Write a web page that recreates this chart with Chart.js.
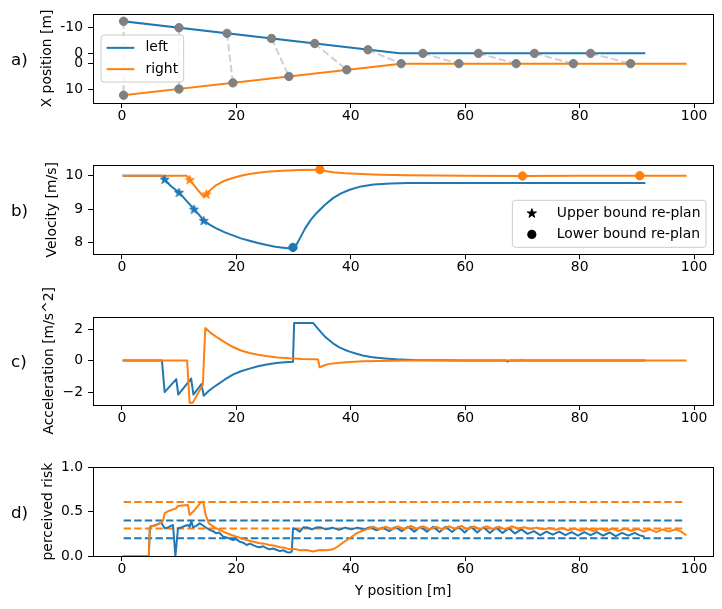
<!DOCTYPE html>
<html>
<head>
<meta charset="utf-8">
<script src="https://cdn.jsdelivr.net/npm/chart.js@4/dist/chart.umd.min.js"></script>
<style>
    html, body { margin: 0; padding: 0; background: #fff; }
    #fig { position: relative; width: 722px; height: 609px; overflow: hidden; font-family: "DejaVu Sans", sans-serif; }
    #fig canvas { position: absolute; left: 0; }
    .plabel { position: absolute; left: 11px; font-size: 16.7px; line-height: 1; transform: translateY(-50%); color: #000; }
</style>
</head>
<body>
<div id="fig">
    <canvas id="chartA" width="722" height="150" style="top:0px"></canvas>
    <canvas id="chartB" width="722" height="150" style="top:135px"></canvas>
    <canvas id="chartC" width="722" height="160" style="top:280px"></canvas>
    <canvas id="chartD" width="722" height="169" style="top:440px"></canvas>
    <div class="plabel" style="top:58.5px">a)</div>
    <div class="plabel" style="top:209.8px">b)</div>
    <div class="plabel" style="top:360.8px">c)</div>
    <div class="plabel" style="top:511.6px">d)</div>
</div>
<script>
// ---- data ----
const xTicks = [0, 20, 40, 60, 80, 100];

// a) lateral position (each lane drawn with a small offset so both zeros show)
const posTicks = [-12, -2, 2, 12];
const posTickLabels = ['-10', '0', '0', '10'];
const posLeft = [[0.3, -14.5], [48.5, -2], [91.3, -2]];
const posRight = [[0.3, 14.3], [48.8, 2], [98.5, 2]];
const planLeft = [[0.3, -14.5], [9.97, -12.0], [18.37, -9.8], [26.14, -7.8], [33.7, -5.85],
    [43.0, -3.4], [52.6, -2], [62.3, -2], [72.1, -2], [81.9, -2]];
const planRight = [[0.3, 14.3], [9.97, 11.9], [19.4, 9.5], [29.2, 7.0], [39.3, 4.4],
    [48.8, 2], [58.9, 2], [68.9, 2], [78.9, 2], [88.9, 2]];

// b) velocity
const velTicks = [8, 9, 10];
const velTickLabels = ['8', '9', '10'];
const velLeft = [[0.3, 10], [7.0, 10], [7.47, 9.89], [8.5, 9.7], [9.97, 9.5], [11.3, 9.25], [12.6, 9.0],
    [13.5, 8.83], [14.3, 8.66], [15.4, 8.53], [16.5, 8.43], [18.0, 8.31], [19.4, 8.22], [20.8, 8.13],
    [22.3, 8.06], [23.8, 7.99], [25.3, 7.93], [26.8, 7.88], [28.2, 7.85], [29.9, 7.82], [30.5, 7.94],
    [31.1, 8.13], [32.0, 8.42], [33.0, 8.68], [34.0, 8.88], [35.4, 9.12], [36.9, 9.33], [38.3, 9.47],
    [39.8, 9.58], [41.8, 9.68], [44.0, 9.74], [47.0, 9.77], [50.0, 9.78], [91.3, 9.78]];
const velRight = [[0.3, 10], [11.3, 10], [11.85, 9.88], [12.6, 9.72], [13.4, 9.55], [14.2, 9.38],
    [14.77, 9.45], [15.5, 9.58], [16.5, 9.72], [17.8, 9.84], [19.4, 9.93], [20.8, 10.0], [22.3, 10.05],
    [23.8, 10.09], [25.3, 10.12], [28.0, 10.15], [31.1, 10.17], [34.6, 10.18], [35.5, 10.14],
    [36.9, 10.1], [39.0, 10.07], [41.8, 10.05], [45.0, 10.03], [50.0, 10.01], [60.0, 10.0],
    [70.0, 9.99], [80.0, 10.0], [98.5, 10.0]];
const upperLeft = [[7.47, 9.89], [9.97, 9.5], [12.6, 9.0], [14.3, 8.66]];
const upperRight = [[11.85, 9.88], [14.77, 9.45]];
const lowerLeft = [[29.9, 7.86]];
const lowerRight = [[34.6, 10.18], [70.0, 9.99], [90.5, 10.0]];

// c) acceleration
const accTicks = [-2, 0, 2];
const accTickLabels = ['\u22122', '0', '2'];
const accLeft = [[0.3, 0], [7.0, 0], [7.47, -2.0], [9.5, -1.18], [9.85, -2.16], [12.1, -1.14],
    [12.5, -2.16], [13.9, -1.49], [14.3, -2.23], [15.2, -1.92], [16.5, -1.57], [18.0, -1.2],
    [19.4, -0.89], [20.8, -0.68], [22.3, -0.51], [23.8, -0.36], [25.3, -0.25], [27.0, -0.16],
    [28.5, -0.11], [29.9, -0.07], [30.1, 2.39], [33.4, 2.39], [34.55, 1.9], [35.4, 1.55], [36.3, 1.27],
    [37.1, 1.04], [38.0, 0.84], [38.9, 0.69], [39.8, 0.57], [41.0, 0.43], [42.1, 0.32], [43.5, 0.23],
    [45.0, 0.17], [46.5, 0.12], [48.0, 0.08], [50.9, 0.04], [55.5, 0.015], [60.0, 0], [67.1, 0],
    [67.4, -0.06], [67.7, 0], [91.3, 0]];
const accRight = [[0.3, 0], [11.4, 0], [11.83, -2.67], [12.4, -2.67], [14.15, -1.52], [14.57, 2.07],
    [15.5, 1.76], [16.5, 1.5], [18.0, 1.15], [19.4, 0.86], [20.8, 0.64], [22.3, 0.48], [23.8, 0.37],
    [25.2, 0.29], [27.2, 0.2], [29.3, 0.14], [31.5, 0.1], [33.5, 0.08], [34.3, 0.07], [34.55, -0.43],
    [35.4, -0.3], [36.3, -0.21], [37.7, -0.15], [39.2, -0.11], [42.1, -0.05], [45.0, -0.02],
    [50.0, 0], [69.7, 0], [69.9, 0.05], [70.3, 0.01], [98.5, 0]];

// d) perceived risk
const riskTicks = [0, 0.5, 1.0];
const riskTickLabels = ['0.0', '0.5', '1.0'];
const riskSpan = [0.3, 98.5];
const riskLimitsLeft = [0.2, 0.4];
const riskLimitsRight = [0.31, 0.61];
const riskLeft = [[0.3, 0], [4.7, 0], [4.9, 0.33], [6.0, 0.35], [6.89, 0.376], [7.47, 0.312],
    [8.05, 0.323], [8.93, 0.35], [9.35, 0], [9.8, 0.312], [10.4, 0.322], [10.97, 0.338], [11.55, 0.35],
    [11.85, 0.33], [12.14, 0.398], [12.43, 0.323], [13.0, 0.34], [13.6, 0.368], [14.0, 0.352],
    [14.47, 0.33], [15.35, 0.293], [15.9, 0.28], [16.5, 0.256], [17.0, 0.265], [17.7, 0.218],
    [18.5, 0.205], [19.4, 0.18], [20.0, 0.19], [20.6, 0.16], [21.2, 0.15], [21.8, 0.124], [22.4, 0.14],
    [23.0, 0.12], [23.6, 0.105], [24.1, 0.098], [24.7, 0.11], [25.2, 0.09], [25.8, 0.075], [26.4, 0.085],
    [27.0, 0.07], [27.6, 0.055], [28.2, 0.065], [28.8, 0.045], [29.3, 0.038], [29.7, 0.05], [29.9, 0.312],
    [30.5, 0.30], [31.1, 0.274], [31.7, 0.323], [32.5, 0.32], [33.2, 0.30], [34.0, 0.322], [34.6, 0.325],
    [35.7, 0.30], [36.8, 0.32], [37.9, 0.295], [39.0, 0.32], [40.1, 0.30], [41.2, 0.32], [42.3, 0.30],
    [43.4, 0.325], [44.5, 0.29], [45.6, 0.32], [46.7, 0.28], [47.8, 0.325], [48.9, 0.28], [50.0, 0.33],
    [51.1, 0.275], [52.2, 0.33], [53.3, 0.275], [54.4, 0.33], [55.5, 0.27], [56.6, 0.33], [57.7, 0.27],
    [58.8, 0.33], [59.9, 0.265], [61.0, 0.33], [62.1, 0.265], [63.2, 0.325], [64.3, 0.26], [65.4, 0.32],
    [66.5, 0.26], [67.6, 0.31], [68.7, 0.255], [69.8, 0.30], [70.9, 0.25], [72.0, 0.28], [73.1, 0.235],
    [74.2, 0.275], [75.3, 0.24], [76.4, 0.275], [77.5, 0.235], [78.6, 0.27], [79.7, 0.23], [80.8, 0.27],
    [81.9, 0.235], [83.0, 0.27], [84.1, 0.23], [85.2, 0.265], [86.3, 0.225], [87.4, 0.26], [88.5, 0.23],
    [89.6, 0.26], [90.4, 0.235], [91.2, 0.22]];
const riskRight = [[0.3, 0], [4.7, 0], [4.9, 0.33], [6.0, 0.35], [6.89, 0.376], [7.2, 0.4], [7.47, 0.48],
    [8.05, 0.505], [8.93, 0.526], [9.4, 0.535], [9.8, 0.564], [10.5, 0.57], [11.55, 0.575], [11.84, 0.462],
    [12.6, 0.51], [13.3, 0.565], [13.9, 0.613], [14.2, 0.613], [14.65, 0.462], [15.2, 0.368],
    [16.2, 0.323], [16.9, 0.30], [17.7, 0.274], [18.8, 0.245], [20.0, 0.218], [20.9, 0.2], [21.8, 0.18],
    [23.0, 0.16], [24.1, 0.143], [25.0, 0.137], [25.8, 0.124], [26.7, 0.116], [27.6, 0.098], [28.5, 0.092],
    [29.3, 0.075], [30.2, 0.08], [31.1, 0.065], [32.2, 0.068], [33.4, 0.05], [34.6, 0.068], [35.8, 0.066],
    [36.9, 0.075], [37.8, 0.11], [38.6, 0.15], [39.8, 0.2], [41.0, 0.255], [42.0, 0.285], [42.8, 0.30],
    [43.9, 0.33], [45.0, 0.30], [46.1, 0.33], [47.2, 0.30], [48.3, 0.335], [49.4, 0.30], [50.5, 0.34],
    [51.6, 0.305], [52.7, 0.335], [53.8, 0.30], [54.9, 0.33], [56.0, 0.30], [57.1, 0.335], [58.2, 0.305],
    [59.3, 0.34], [60.4, 0.30], [61.5, 0.335], [62.6, 0.30], [63.7, 0.335], [64.8, 0.305], [65.9, 0.33],
    [67.0, 0.30], [68.1, 0.335], [69.2, 0.31], [70.3, 0.325], [71.4, 0.305], [72.5, 0.32], [73.6, 0.30],
    [74.7, 0.315], [75.8, 0.295], [76.9, 0.315], [78.0, 0.29], [79.1, 0.31], [80.2, 0.285], [81.3, 0.31],
    [82.4, 0.28], [83.5, 0.31], [84.6, 0.285], [85.7, 0.31], [86.8, 0.28], [87.9, 0.31], [89.0, 0.285],
    [90.1, 0.305], [91.2, 0.275], [92.3, 0.30], [93.4, 0.27], [94.5, 0.30], [95.6, 0.275], [96.7, 0.30],
    [97.6, 0.28], [98.5, 0.24]];

// ---- styling ----
const BLUE = '#1f77b4';
const ORANGE = '#ff7f0e';
const GRAY = '#808080';
const LIGHT = '#d0d0d0';
const DASH = [7.4, 3.2];
const FONT = '"DejaVu Sans", sans-serif';
const FS = 13.9;

Chart.defaults.font.family = FONT;
Chart.defaults.font.size = FS;
Chart.defaults.color = '#000';

const pts = arr => arr.map(([x, y]) => ({x, y}));

function starPath(ctx, x, y, r) {
    ctx.beginPath();
    for (let i = 0; i < 10; i++) {
        const rad = i % 2 === 0 ? r : r * 0.382;
        const a = -Math.PI / 2 + i * Math.PI / 5;
        ctx.lineTo(x + rad * Math.cos(a), y + rad * Math.sin(a));
    }
    ctx.closePath();
}

function starImage(color) {
    const c = document.createElement('canvas');
    c.width = 13; c.height = 13;
    const g = c.getContext('2d');
    starPath(g, 6.5, 6.8, 4.8);
    g.fillStyle = color; g.fill();
    g.strokeStyle = color; g.lineWidth = 1; g.stroke();
    return c;
}

// axes box like matplotlib spines
const framePlugin = {
    id: 'frame',
    afterDatasetsDraw(chart) {
        const {ctx, chartArea: a} = chart;
        const l = Math.round(a.left), t = Math.round(a.top);
        const r = Math.round(a.right), b = Math.round(a.bottom);
        ctx.save();
        ctx.strokeStyle = '#000';
        ctx.lineWidth = 1;
        ctx.strokeRect(l + 0.5, t + 0.5, r - l, b - t);
        ctx.restore();
    }
};

// legend box inside the axes
const boxLegend = {
    id: 'boxLegend',
    afterDraw(chart, args, opts) {
        if (!opts || !opts.items) return;
        const {ctx, chartArea: a} = chart;
        const items = opts.items;
        const pad = 0.4 * FS, handle = 2 * FS, gap = 0.8 * FS, rowH = 21.3;
        ctx.save();
        ctx.font = FS + 'px ' + FONT;
        let tw = 0;
        items.forEach(it => { tw = Math.max(tw, ctx.measureText(it.label).width); });
        const w = pad + handle + gap + tw + pad;
        const h = items.length * rowH + 4.4;
        const left = opts.anchor === 'lower right' ? a.right - opts.dx - w : a.left + opts.dx;
        const top = opts.anchor === 'lower right' ? a.bottom - opts.dy - h : a.top + opts.dy;
        ctx.beginPath();
        ctx.roundRect(left, top, w, h, 3);
        ctx.fillStyle = 'rgba(255,255,255,0.8)';
        ctx.fill();
        ctx.strokeStyle = '#cccccc';
        ctx.lineWidth = 1;
        ctx.stroke();
        items.forEach((it, i) => {
            const cy = top + 2.2 + rowH / 2 + i * rowH;
            const hx = left + pad;
            ctx.strokeStyle = it.color;
            ctx.fillStyle = it.color;
            if (it.kind === 'line') {
                ctx.lineWidth = 2;
                ctx.beginPath();
                ctx.moveTo(hx, cy);
                ctx.lineTo(hx + handle, cy);
                ctx.stroke();
            } else if (it.kind === 'star') {
                starPath(ctx, hx + handle / 2, cy + 0.3, 4.8);
                ctx.lineWidth = 1;
                ctx.fill();
                ctx.stroke();
            } else {
                ctx.beginPath();
                ctx.arc(hx + handle / 2, cy, 4.6, 0, Math.PI * 2);
                ctx.fill();
            }
            ctx.fillStyle = '#000';
            ctx.textBaseline = 'middle';
            ctx.textAlign = 'left';
            ctx.fillText(it.label, hx + handle + gap, cy);
        });
        ctx.restore();
    }
};

const X_MIN = -5.05, X_MAX = 103.3;

function xAxis(h, title) {
    return {
        type: 'linear', min: X_MIN, max: X_MAX,
        afterBuildTicks: ax => { ax.ticks = xTicks.map(v => ({value: v})); },
        afterFit: ax => { ax.height = h; },
        grid: { drawOnChartArea: false, drawTicks: true, tickLength: 5, color: '#000', tickColor: '#000', lineWidth: 1 },
        border: { display: false },
        ticks: { padding: 0, maxRotation: 0, autoSkip: false, callback: v => String(v) },
        title: title ? { display: true, text: title, padding: { top: 0, bottom: 9 } } : { display: false }
    };
}

function yAxis(min, max, ticks, labels, title, titlePad, reverse) {
    return {
        type: 'linear', min: min, max: max, reverse: !!reverse,
        afterBuildTicks: ax => { ax.ticks = ticks.map(v => ({value: v})); },
        afterFit: ax => { ax.width = 93; },
        grid: { drawOnChartArea: false, drawTicks: true, tickLength: 5, color: '#000', tickColor: '#000', lineWidth: 1 },
        border: { display: false },
        ticks: { padding: 5, autoSkip: false, callback: (v, i) => labels[i] },
        title: { display: true, text: title, padding: { top: titlePad, bottom: 0 } }
    };
}

function line(data, color, order, extra) {
    return Object.assign({
        data: pts(data), borderColor: color, backgroundColor: color, borderWidth: 2,
        pointRadius: 0, fill: false, tension: 0, borderJoinStyle: 'round', borderCapStyle: 'square',
        order: order
    }, extra || {});
}

function marks(data, color, style) {
    return {
        data: pts(data), showLine: false, pointStyle: style, pointRadius: 4.2, pointBorderWidth: 1,
        pointBackgroundColor: color, pointBorderColor: color, borderColor: color, backgroundColor: color,
        order: 0
    };
}

function makeChart(id, padTop, datasets, xAx, yAx, legend) {
    return new Chart(document.getElementById(id), {
        type: 'line',
        data: { datasets: datasets },
        options: {
            responsive: false, maintainAspectRatio: false, animation: false, events: [],
            layout: { padding: { left: 0, right: 9, top: padTop, bottom: 0 } },
            scales: { x: xAx, y: yAx },
            plugins: { legend: { display: false }, tooltip: { enabled: false }, boxLegend: legend || {} }
        },
        plugins: [framePlugin, boxLegend]
    });
}

// a) positions
const connectors = planLeft.map((p, i) =>
    line([p, planRight[i]], LIGHT, 3, { borderDash: DASH, borderCapStyle: 'butt' }));
makeChart('chartA', 14, [
    marks(planLeft.concat(planRight), GRAY, 'circle'),
    line(posRight, ORANGE, 1),
    line(posLeft, BLUE, 2)
].concat(connectors),
    xAxis(47),
    yAxis(-17.34, 17.34, posTicks, posTickLabels, 'X position [m]', 39, true),
    { anchor: 'upper left', dx: 8, dy: 21, items: [
        { label: 'left', color: BLUE, kind: 'line' },
        { label: 'right', color: ORANGE, kind: 'line' }
    ] });

// b) velocity
makeChart('chartB', 30.3, [
    marks(upperLeft, BLUE, starImage(BLUE)),
    marks(upperRight, ORANGE, starImage(ORANGE)),
    marks(lowerLeft, BLUE, 'circle'),
    marks(lowerRight, ORANGE, 'circle'),
    line(velRight, ORANGE, 1),
    line(velLeft, BLUE, 2)
],
    xAxis(30.7),
    yAxis(7.654, 10.31, velTicks, velTickLabels, 'Velocity [m/s]', 44.2),
    { anchor: 'lower right', dx: 7, dy: 7, items: [
        { label: 'Upper bound re-plan', color: '#000', kind: 'star' },
        { label: 'Lower bound re-plan', color: '#000', kind: 'circle' }
    ] });

// c) acceleration
makeChart('chartC', 36.6, [
    line(accRight, ORANGE, 1),
    line(accLeft, BLUE, 2)
],
    xAxis(35),
    yAxis(-2.82, 2.79, accTicks, accTickLabels, 'Acceleration [m/s^2]', 40.9));

// d) perceived risk
const limitLines = [];
riskLimitsRight.forEach(v => limitLines.push(
    line([[riskSpan[0], v], [riskSpan[1], v]], ORANGE, 3, { borderDash: DASH, borderCapStyle: 'butt' })));
riskLimitsLeft.forEach(v => limitLines.push(
    line([[riskSpan[0], v], [riskSpan[1], v]], BLUE, 3, { borderDash: DASH, borderCapStyle: 'butt' })));
makeChart('chartD', 27.3, [
    line(riskRight, ORANGE, 1),
    line(riskLeft, BLUE, 2)
].concat(limitLines),
    xAxis(53, 'Y position [m]'),
    yAxis(0, 1.0, riskTicks, riskTickLabels, 'perceived risk', 40.4));
</script>
</body>
</html>
